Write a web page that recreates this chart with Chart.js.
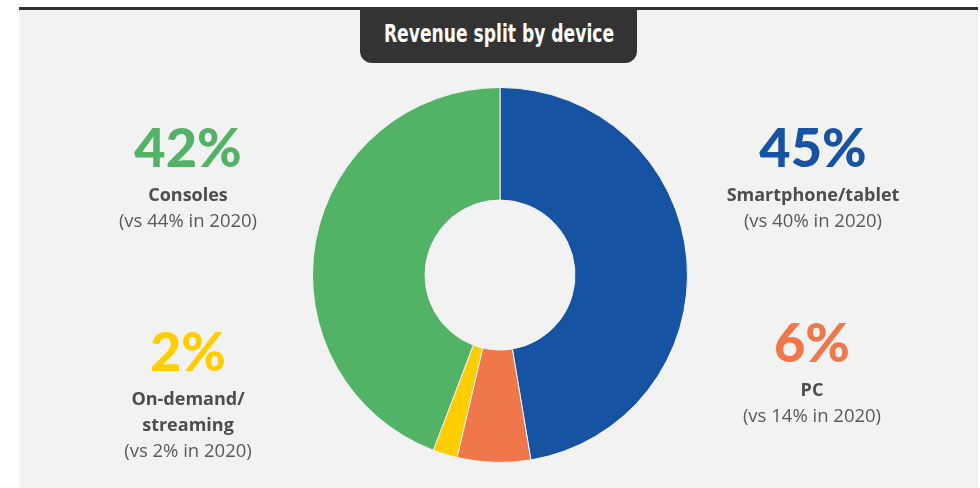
<!DOCTYPE html>
<html>
<head>
<meta charset="utf-8">
<script src="https://cdn.jsdelivr.net/npm/chart.js"></script>
<style>
  html, body { margin: 0; padding: 0; background: #ffffff; }
  #page { position: relative; width: 980px; height: 488px; overflow: hidden; }
  #panel { position: absolute; left: 19px; top: 7px; width: 959px; height: 481px; background: #f2f2f2; border-top: 3px solid #333333; box-sizing: border-box; }
  #title { position: absolute; left: 360px; top: 10px; width: 277px; height: 53px; background: #333333; border-radius: 0 0 12px 12px;
           color: #ffffff; overflow: hidden; }
  #titleText { position: absolute; left: 50%; top: 0; white-space: nowrap; font-family: "DejaVu Sans", sans-serif; font-weight: bold; font-size: 24px;
               line-height: 49px; transform-origin: center center; }
  #chartBox { position: absolute; left: 312px; top: 87px; width: 376px; height: 376px; }
  .lbl { position: absolute; width: 260px; text-align: center; font-family: "Open Sans", sans-serif; color: #595959; font-size: 18.5px; line-height: 26px; }
  .pct { font-family: "Lato", "Open Sans", sans-serif; font-weight: 900; font-size: 54px; line-height: 56px; margin-bottom: 6px; }
  .name { font-weight: bold; color: #4d4d4d; font-size: 18px; }
</style>
</head>
<body>
<div id="page">
  <div id="panel"></div>
  <div id="title"><span id="titleText">Revenue split by device</span></div>
  <div id="chartBox"><canvas id="donut"></canvas></div>
  <div id="labels"></div>
</div>
<script>
  // datos del gráfico
  const categories = ["Smartphone/tablet", "PC", "On-demand/\nstreaming", "Consoles"];
  const share2021 = [45, 6, 2, 42];
  const share2020 = [40, 14, 2, 44];
  const colors = ["#1753a3", "#ef774a", "#ffcd00", "#52b266"];

  // posición de cada etiqueta (centro x, top y)
  const labelPos = [
    { x: 813, y: 119 },
    { x: 812, y: 314 },
    { x: 188, y: 323 },
    { x: 188, y: 119 },
  ];

  // título condensado: ajustar al ancho del original
  const tt = document.getElementById("titleText");
  tt.style.transform = "translateX(-50%) scaleX(" + (230 / tt.offsetWidth) + ")";

  const labelsDiv = document.getElementById("labels");
  categories.forEach(function (cat, i) {
    const d = document.createElement("div");
    d.className = "lbl";
    d.style.left = (labelPos[i].x - 130) + "px";
    d.style.top = labelPos[i].y + "px";
    d.innerHTML =
      '<div class="pct" style="color:' + colors[i] + '">' + share2021[i] + "%</div>" +
      '<div class="name">' + cat.replace("\n", "<br>") + "</div>" +
      "<div>(vs " + share2020[i] + "% in 2020)</div>";
    labelsDiv.appendChild(d);
  });

  const ctx = document.getElementById("donut").getContext("2d");
  new Chart(ctx, {
    type: "doughnut",
    data: {
      labels: categories,
      datasets: [
        {
          data: share2021,
          backgroundColor: colors,
          borderColor: "#f2f2f2",
          borderWidth: 1,
        },
      ],
    },
    options: {
      responsive: true,
      maintainAspectRatio: false,
      animation: false,
      cutout: "40%",
      layout: { padding: 0 },
      plugins: {
        legend: { display: false },
        tooltip: { enabled: false },
      },
    },
  });
</script>
</body>
</html>
